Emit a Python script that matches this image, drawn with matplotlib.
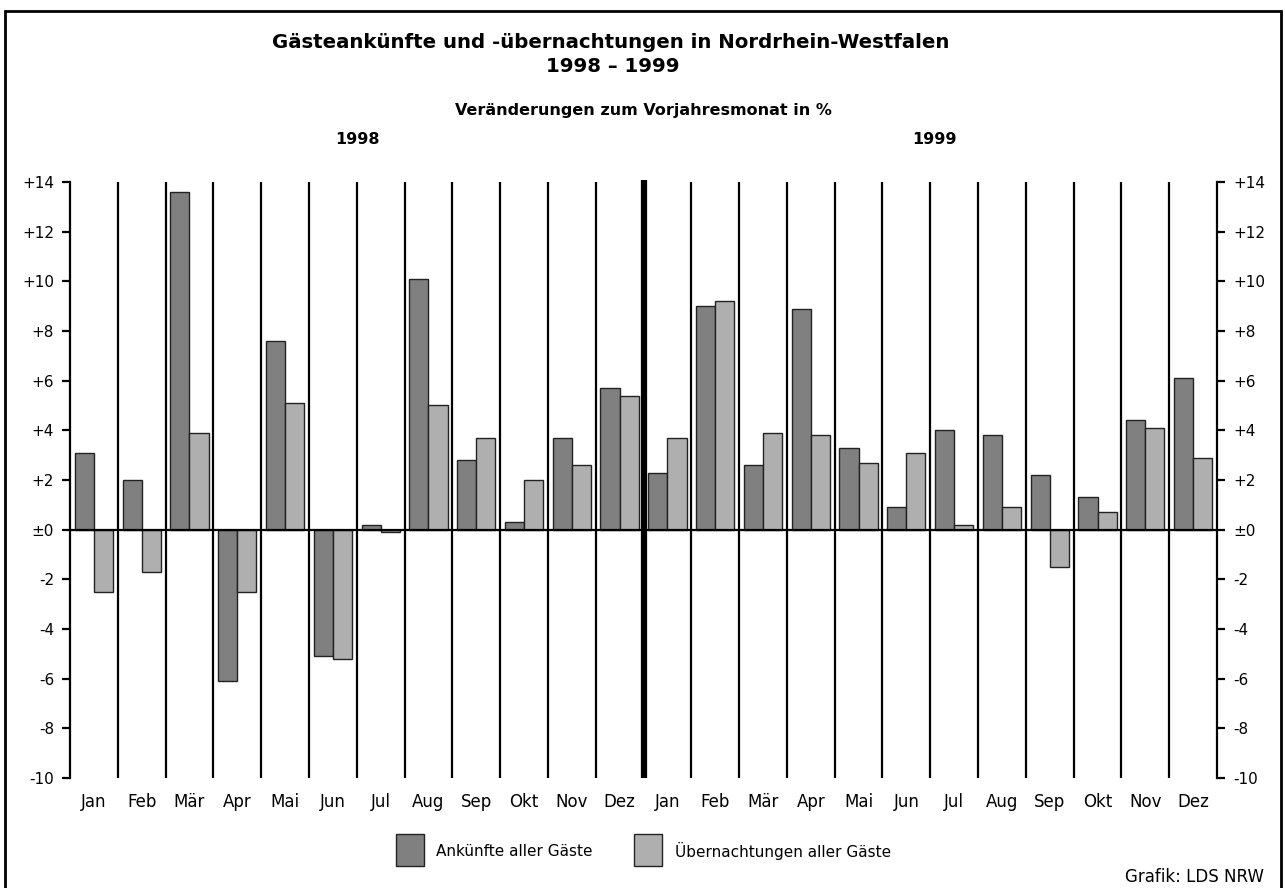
import matplotlib
matplotlib.use("Agg")
import matplotlib.pyplot as plt
from matplotlib.patches import Rectangle
import numpy as np

plt.rcParams['font.family'] = ['DejaVu Sans']

months = ["Jan", "Feb", "Mär", "Apr", "Mai", "Jun", "Jul", "Aug", "Sep", "Okt", "Nov", "Dez"]
x_labels = months + months
ankuenfte = [3.1, 2.0, 13.6, -6.1, 7.6, -5.1, 0.2, 10.1, 2.8, 0.3, 3.7, 5.7,
             2.3, 9.0, 2.6, 8.9, 3.3, 0.9, 4.0, 3.8, 2.2, 1.3, 4.4, 6.1]
uebernachtungen = [-2.5, -1.7, 3.9, -2.5, 5.1, -5.2, -0.1, 5.0, 3.7, 2.0, 2.6, 5.4,
                   3.7, 9.2, 3.9, 3.8, 2.7, 3.1, 0.2, 0.9, -1.5, 0.7, 4.1, 2.9]
y_ticks = [14, 12, 10, 8, 6, 4, 2, 0, -2, -4, -6, -8, -10]
y_tick_labels = ["+14", "+12", "+10", "+8", "+6", "+4", "+2", "±0", "-2", "-4", "-6", "-8", "-10"]
series_names = ["Ankünfte aller Gäste", "Übernachtungen aller Gäste"]
years = ["1998", "1999"]

W, H = 1285, 888
fig = plt.figure(figsize=(W / 100, H / 100), dpi=100)
fig.patch.set_facecolor("white")

left, right, top, bottom = 70, 1217, 182, 778
ax = fig.add_axes([left / W, 1 - bottom / H, (right - left) / W, (bottom - top) / H])

dark = "#808080"
light = "#afafaf"
n = len(x_labels)
xc = np.arange(n) + 0.5
bw = 0.4
ax.bar(xc - bw / 2, ankuenfte, width=bw, color=dark, edgecolor="#222222", linewidth=1.0, zorder=3)
ax.bar(xc + bw / 2, uebernachtungen, width=bw, color=light, edgecolor="#222222", linewidth=1.0, zorder=3)

ax.set_xlim(0, n)
ax.set_ylim(-10, 14)

# separators
for k in range(1, n):
    if k == 12:
        ax.plot([k, k], [-10, 14.1], color="black", lw=4.5, zorder=4, clip_on=False, solid_capstyle="butt")
    else:
        ax.plot([k, k], [-10, 14], color="black", lw=1.6, zorder=4, solid_capstyle="butt")
ax.axhline(0, color="black", lw=1.6, zorder=5)

for s in ["top", "bottom"]:
    ax.spines[s].set_visible(False)
for s in ["left", "right"]:
    ax.spines[s].set_linewidth(1.6)

ax.set_yticks(y_ticks)
ax.set_yticklabels(y_tick_labels)
ax.tick_params(axis="y", which="both", direction="out", length=5.5, width=1.6,
               labelsize=11, left=True, right=True, labelleft=True, labelright=True, pad=6)
ax.set_xticks(xc)
ax.set_xticklabels(x_labels)
ax.tick_params(axis="x", length=0, labelsize=12, pad=11)

# titles
fig.text(611 / W, 1 - 42 / H, "Gästeankünfte und -übernachtungen in Nordrhein-Westfalen",
         ha="center", va="center", fontsize=14.2, fontweight="bold")
fig.text(613 / W, 1 - 66 / H, "1998 – 1999", ha="center", va="center", fontsize=14.2, fontweight="bold")
fig.text(643 / W, 1 - 110 / H, "Veränderungen zum Vorjahresmonat in %", ha="center", va="center",
         fontsize=11.5, fontweight="bold")
fig.text(357 / W, 1 - 140 / H, years[0], ha="center", va="center", fontsize=11.5, fontweight="bold")
fig.text(934 / W, 1 - 140 / H, years[1], ha="center", va="center", fontsize=11.5, fontweight="bold")

# legend
for (bx, tx, col, name) in [(396, 436, dark, series_names[0]), (634, 675, light, series_names[1])]:
    fig.patches.append(Rectangle((bx / W, 1 - 866 / H), 28 / W, 32 / H, transform=fig.transFigure,
                                 facecolor=col, edgecolor="#222222", linewidth=1.0))
    fig.text(tx / W, 1 - 851 / H, name, ha="left", va="center", fontsize=11)

fig.text(1264 / W, 1 - 877 / H, "Grafik: LDS NRW", ha="right", va="center", fontsize=12)

# outer frame
fig.patches.append(Rectangle((5 / W, -10 / H), 1276 / W, (H - 1) / H, transform=fig.transFigure,
                             facecolor="none", edgecolor="black", linewidth=2.0))

fig.savefig("out.png", dpi=100, facecolor="white")
